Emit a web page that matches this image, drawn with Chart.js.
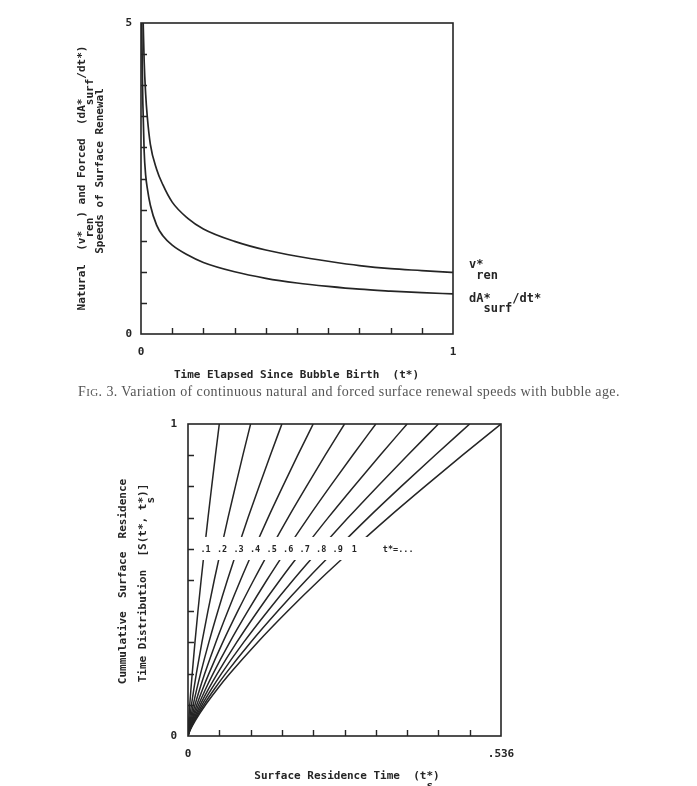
<!DOCTYPE html>
<html><head><meta charset="utf-8">
<script src="https://cdn.jsdelivr.net/npm/chart.js@4.4.0/dist/chart.umd.min.js"></script>
<style>
html,body{margin:0;padding:0;background:#fff;}
body{width:697px;height:786px;position:relative;overflow:hidden;}
canvas{position:absolute;left:0;}
#c1{top:0;}
#c2{top:400px;}
#caption{position:absolute;left:78px;top:384px;font:14px "Liberation Serif",serif;letter-spacing:0.4px;color:#555;white-space:nowrap;}
</style></head><body>
<canvas id="c1" width="697" height="400"></canvas>
<canvas id="c2" width="697" height="386"></canvas>
<div id="caption">F<span style="font-size:11px">IG</span>. 3. Variation of continuous natural and forced surface renewal speeds with bubble age.</div>
<script>
// ---------- Chart 1 data ----------
const tRen   = [0.007,0.01,0.015,0.02,0.03,0.05,0.07,0.1,0.15,0.2,0.3,0.4,0.5,0.6,0.7,0.8,0.9,1.0];
const vRen   = [5.0,4.4,3.85,3.5,3.05,2.65,2.4,2.12,1.86,1.69,1.49,1.35,1.25,1.17,1.10,1.05,1.02,0.99];
const tSurf  = [0.0025,0.004,0.006,0.01,0.015,0.02,0.03,0.05,0.07,0.1,0.15,0.2,0.3,0.4,0.5,0.6,0.7,0.8,0.9,1.0];
const dASurf = [5.0,4.3,3.7,2.95,2.55,2.35,2.07,1.75,1.58,1.43,1.27,1.15,1.00,0.895,0.82,0.765,0.72,0.69,0.665,0.645];
const x1TickLabels = ['0','1'];
const y1TickLabels = ['0','5'];

// ---------- Chart 2 data ----------
const sLevels = [0,0.02,0.05,0.1,0.15,0.2,0.3,0.4,0.5,0.6,0.7,0.8,0.9,1.0];
const ts01 = [0,0.0004,0.0013,0.0030,0.0050,0.0072,0.0119,0.0170,0.0225,0.0283,0.0343,0.0406,0.0470,0.0536];
const ts02 = [0,0.0008,0.0025,0.0060,0.0100,0.0143,0.0238,0.0341,0.0450,0.0566,0.0686,0.0812,0.0940,0.1072];
const ts03 = [0,0.0012,0.0038,0.0090,0.0150,0.0215,0.0357,0.0511,0.0675,0.0849,0.1029,0.1217,0.1410,0.1608];
const ts04 = [0,0.0016,0.0051,0.0120,0.0200,0.0287,0.0476,0.0682,0.0900,0.1132,0.1372,0.1623,0.1880,0.2144];
const ts05 = [0,0.0020,0.0064,0.0151,0.0250,0.0358,0.0595,0.0852,0.1126,0.1415,0.1715,0.2029,0.2350,0.2680];
const ts06 = [0,0.0024,0.0076,0.0181,0.0300,0.0430,0.0714,0.1023,0.1351,0.1698,0.2058,0.2434,0.2820,0.3216];
const ts07 = [0,0.0028,0.0089,0.0211,0.0350,0.0502,0.0833,0.1193,0.1576,0.1981,0.2401,0.2840,0.3290,0.3752];
const ts08 = [0,0.0032,0.0102,0.0241,0.0400,0.0573,0.0952,0.1364,0.1801,0.2264,0.2744,0.3246,0.3761,0.4288];
const ts09 = [0,0.0036,0.0114,0.0271,0.0450,0.0645,0.1071,0.1534,0.2026,0.2547,0.3087,0.3652,0.4231,0.4824];
const ts10 = [0,0.0040,0.0127,0.0301,0.0500,0.0717,0.1190,0.1704,0.2251,0.2830,0.3430,0.4058,0.4701,0.5360];
const tStarLabels = ['.1','.2','.3','.4','.5','.6','.7','.8','.9','1'];
const x2TickLabels = ['0','.536'];
const y2TickLabels = ['0','1'];
const x2Max = 0.536;

const INK = '#252525';
const MONO = '"DejaVu Sans Mono", monospace';
function f(sz){ return 'bold ' + sz + 'px ' + MONO; }

function richWidth(ctx, parts, size){
  ctx.font = f(size);
  const cw = ctx.measureText('M').width;
  let cur = 0, maxX = 0;
  for (const p of parts){
    const w = ctx.measureText(p.t).width;
    if (p.sub){ const s = cur - cw; cur = s + w; } else { cur += w; }
    maxX = Math.max(maxX, cur);
  }
  return maxX;
}
function drawRich(ctx, parts, x, y, size, subDy){
  ctx.font = f(size);
  const cw = ctx.measureText('M').width;
  let cur = x;
  ctx.textBaseline = 'middle'; ctx.textAlign = 'left';
  for (const p of parts){
    const w = ctx.measureText(p.t).width;
    if (p.sub){ const s = cur - cw; ctx.fillText(p.t, s, y + subDy); cur = s + w; }
    else { ctx.fillText(p.t, cur, y); cur += w; }
  }
}
function drawRichCentered(ctx, parts, cx, cy, size, subDy, rotate){
  ctx.save();
  ctx.translate(cx, cy);
  if (rotate) ctx.rotate(-Math.PI/2);
  const w = richWidth(ctx, parts, size);
  drawRich(ctx, parts, -w/2, 0, size, subDy);
  ctx.restore();
}
function boxAndTicks(chart){
  const {ctx, chartArea:a, scales} = chart;
  ctx.save();
  ctx.strokeStyle = INK; ctx.lineWidth = 1.6;
  ctx.strokeRect(a.left, a.top, a.right - a.left, a.bottom - a.top);
  ctx.lineWidth = 1.4;
  const xt = scales.x.ticks, yt = scales.y.ticks;
  ctx.beginPath();
  for (let i = 1; i < xt.length - 1; i++){
    const px = Math.round(scales.x.getPixelForValue(xt[i].value)) + 0.5;
    ctx.moveTo(px, a.bottom); ctx.lineTo(px, a.bottom - 6);
  }
  for (let i = 1; i < yt.length - 1; i++){
    const py = Math.round(scales.y.getPixelForValue(yt[i].value)) + 0.5;
    ctx.moveTo(a.left, py); ctx.lineTo(a.left + 6, py);
  }
  ctx.stroke();
  ctx.restore();
}
function endLabels(labels){
  return (v, i, ticks) => i === 0 ? labels[0] : (i === ticks.length - 1 ? labels[1] : '');
}
function axisCommon(min, max, step, labels, pad, isY, size){
  return {
    type: 'linear', min, max,
    grid: { display: false, drawTicks: false },
    border: { display: false },
    ticks: { stepSize: step, autoSkip: false, maxRotation: 0, padding: pad, color: INK,
             font: { family: MONO, size: 11, weight: 'bold' }, callback: endLabels(labels) },
    afterFit: (s) => { if (isY) s.width = size; else s.height = size; }
  };
}

// ---------- Chart 1 ----------
const deco1 = {
  id: 'deco1',
  afterDraw(chart){
    const ctx = chart.ctx;
    boxAndTicks(chart);
    ctx.save();
    ctx.fillStyle = INK;
    drawRichCentered(ctx, [{t:'Natural  (v*'},{t:'ren',sub:1},{t:') and Forced  (dA*'},{t:'surf',sub:1},{t:'/dt*)'}], 82, 178, 11, 8, true);
    drawRichCentered(ctx, [{t:'Speeds of Surface Renewal'}], 100, 171, 11, 0, true);
    drawRichCentered(ctx, [{t:'Time Elapsed Since Bubble Birth  (t*)'}], 296.5, 375, 11, 0, false);
    drawRich(ctx, [{t:'v*'},{t:'ren',sub:1}], 469, 265, 12, 11);
    drawRich(ctx, [{t:'dA*'},{t:'surf',sub:1},{t:'/dt*'}], 469, 299, 12, 9.5);
    ctx.restore();
  }
};
const lineStyle = { borderColor: INK, borderWidth: 1.7, pointRadius: 0, fill: false, cubicInterpolationMode: 'monotone' };
new Chart(document.getElementById('c1'), {
  type: 'line',
  data: { datasets: [
    Object.assign({ label: 'v*ren',  data: tRen.map((x,i)=>({x, y:vRen[i]})) }, lineStyle),
    Object.assign({ label: 'dA*surf/dt*', data: tSurf.map((x,i)=>({x, y:dASurf[i]})) }, lineStyle)
  ]},
  options: {
    responsive: false, animation: false,
    layout: { padding: { left: 0, top: 23, right: 244, bottom: 36 } },
    plugins: { legend: { display: false }, tooltip: { enabled: false } },
    scales: {
      x: axisCommon(0, 1, 0.1, x1TickLabels, 12, false, 30),
      y: axisCommon(0, 5, 0.5, y1TickLabels, 9, true, 141)
    }
  },
  plugins: [deco1]
});

// ---------- Chart 2 ----------
const tsCurves = [ts01,ts02,ts03,ts04,ts05,ts06,ts07,ts08,ts09,ts10];
const deco2 = {
  id: 'deco2',
  afterDatasetsDraw(chart){
    const {ctx, scales:{x, y}} = chart;
    ctx.save();
    const x0 = x.getPixelForValue(0.020), x1 = x.getPixelForValue(0.31);
    const y0 = y.getPixelForValue(0.638), y1 = y.getPixelForValue(0.564);
    ctx.fillStyle = '#fff';
    ctx.fillRect(x0, y0, x1 - x0, y1 - y0);
    ctx.fillStyle = INK;
    ctx.font = f(8.5);
    ctx.textAlign = 'center'; ctx.textBaseline = 'middle';
    const iRow = sLevels.indexOf(0.6);
    tsCurves.forEach((c, k) => {
      ctx.fillText(tStarLabels[k], x.getPixelForValue(c[iRow]) + 1, y.getPixelForValue(0.6) + 1);
    });
    ctx.fillText('t*=...', x.getPixelForValue(0.36), y.getPixelForValue(0.6) + 1);
    ctx.restore();
  },
  afterDraw(chart){
    const ctx = chart.ctx;
    boxAndTicks(chart);
    ctx.save();
    ctx.fillStyle = INK;
    drawRichCentered(ctx, [{t:'Cummulative  Surface  Residence'}], 123.5, 181.5, 11, 0, true);
    drawRichCentered(ctx, [{t:'Time Distribution  [S(t*, t*'},{t:'s',sub:1},{t:')]'}], 143.5, 183, 11, 8, true);
    drawRichCentered(ctx, [{t:'Surface Residence Time  (t*'},{t:'s',sub:1},{t:')'}], 347, 376.5, 11, 10, false);
    ctx.restore();
  }
};
const line2 = { borderColor: INK, borderWidth: 1.5, pointRadius: 0, fill: false, cubicInterpolationMode: 'monotone' };
new Chart(document.getElementById('c2'), {
  type: 'line',
  data: { datasets: tsCurves.map((c, k) => Object.assign({ label: tStarLabels[k], data: c.map((xv,i)=>({x:xv, y:sLevels[i]})) }, line2)) },
  options: {
    responsive: false, animation: false,
    layout: { padding: { left: 0, top: 24, right: 196, bottom: 20 } },
    plugins: { legend: { display: false }, tooltip: { enabled: false } },
    scales: {
      x: axisCommon(0, x2Max, x2Max/10, x2TickLabels, 12, false, 30),
      y: axisCommon(0, 1, 0.1, y2TickLabels, 11, true, 188)
    }
  },
  plugins: [deco2]
});
</script>
</body></html>
